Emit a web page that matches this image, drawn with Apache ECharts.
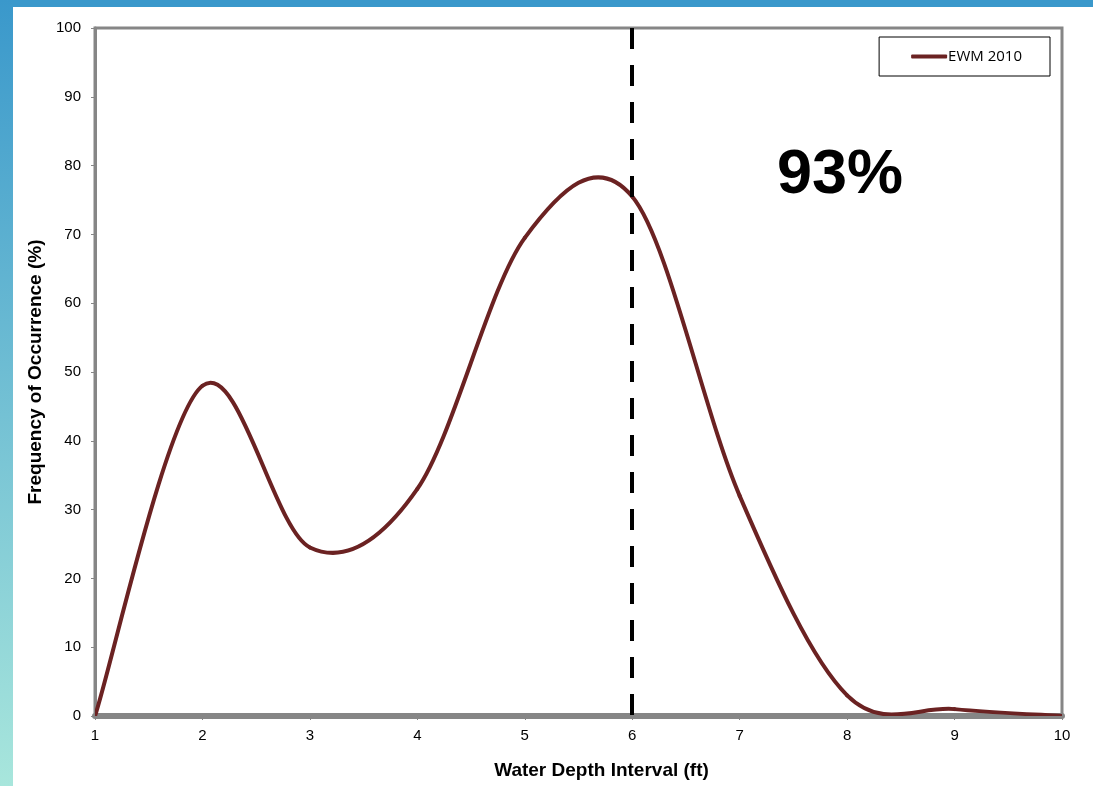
<!DOCTYPE html>
<html><head><meta charset="utf-8">
<script src="https://cdn.jsdelivr.net/npm/echarts@6/dist/echarts.min.js"></script>
<style>html,body{margin:0;padding:0;background:#fff}#c{width:1093px;height:786px}</style>
</head><body><div id="c"></div>
<script>
const xValues = [1, 2, 3, 4, 5, 6, 7, 8, 9, 10];
const ewm2010 = [0, 48, 24.5, 33, 69.5, 75.5, 32, 3, 1, 0];
const thresholdX = 6;
const annotation = '93%';
const seriesName = 'EWM 2010';
const lineColor = '#6b2222';

const pts = xValues.map((x, i) => [x, ewm2010[i]]);

// Excel-style smoothed line: cubic Bezier segments, control points from neighbours / 6
function renderSegment(params, api) {
  const i = params.dataIndex;
  if (i >= pts.length - 1) return null;
  const p0 = api.coord(pts[Math.max(i - 1, 0)]);
  const p1 = api.coord(pts[i]);
  const p2 = api.coord(pts[i + 1]);
  const p3 = api.coord(pts[Math.min(i + 2, pts.length - 1)]);
  const c1 = [p1[0] + (p2[0] - p0[0]) / 6, p1[1] + (p2[1] - p0[1]) / 6];
  const c2 = [p2[0] - (p3[0] - p1[0]) / 6, p2[1] - (p3[1] - p1[1]) / 6];
  return {
    type: 'bezierCurve',
    shape: {x1:p1[0], y1:p1[1], x2:p2[0], y2:p2[1], cpx1:c1[0], cpy1:c1[1], cpx2:c2[0], cpy2:c2[1]},
    style: {stroke: lineColor, lineWidth: 4, fill: null, lineCap: 'round'},
    z2: 1
  };
}

const chart = echarts.init(document.getElementById('c'));
chart.setOption({
  animation: false,
  backgroundColor: '#ffffff',
  graphic: [
    {type:'rect', left:0, top:0, shape:{width:1093, height:7}, style:{fill:'#3a98cb'}, z:-1},
    {type:'rect', left:0, top:0, shape:{width:13, height:786}, style:{fill:{type:'linear',x:0,y:0,x2:0,y2:1,colorStops:[{offset:0,color:'#3a98cb'},{offset:1,color:'#a8e6dc'}]}}, z:-1},
    {type:'text', left:777, top:144, style:{text:annotation, font:'bold 63px "Liberation Sans", Arial, sans-serif', fill:'#000'}}
  ],
  grid: {left:95, top:28, right:31, bottom:70, show:true, borderColor:'#868686', borderWidth:3},
  legend: {
    right:43, top:37, itemGap:0,
    padding:[12,28,12,32], borderColor:'#000', borderWidth:1,
    itemWidth:36, itemHeight:4,
    textStyle:{fontFamily:'"Open Sans", sans-serif', fontSize:15, color:'#000', padding:[0,0,0,-4]},
    data:[{name:seriesName, icon:'roundRect'}]
  },
  xAxis: {
    type:'value', min:1, max:10, interval:1,
    name:'Water Depth Interval (ft)', nameLocation:'middle', nameGap:45,
    nameTextStyle:{fontFamily:'"Liberation Sans", Arial, sans-serif', fontWeight:'bold', fontSize:19, color:'#000', padding:[0,0,0,46]},
    axisLine:{lineStyle:{color:'#868686', width:6}},
    axisTick:{show:true, length:4, lineStyle:{color:'#868686', width:1}},
    axisLabel:{fontFamily:'"Liberation Sans", Arial, sans-serif', fontSize:15, color:'#000', margin:12},
    splitLine:{show:false}
  },
  yAxis: {
    type:'value', min:0, max:100, interval:10,
    name:'Frequency of Occurrence (%)', nameLocation:'middle', nameGap:47,
    nameTextStyle:{fontFamily:'"Liberation Sans", Arial, sans-serif', fontWeight:'bold', fontSize:19, color:'#000'},
    axisLine:{show:true, lineStyle:{color:'#868686', width:3}},
    axisTick:{show:true, length:4, lineStyle:{color:'#868686', width:1}},
    axisLabel:{fontFamily:'"Liberation Sans", Arial, sans-serif', fontSize:15, color:'#000', margin:14},
    splitLine:{show:false}
  },
  series: [{
    name:seriesName, type:'custom', renderItem: renderSegment,
    data: pts, clip:true,
    itemStyle:{color:lineColor},
    encode:{x:0, y:1},
    markLine:{
      silent:true, symbol:['none','none'], label:{show:false},
      lineStyle:{color:'#000', width:4, type:[21,16]},
      data:[[{coord:[thresholdX,100]},{coord:[thresholdX,0]}]]
    }
  }]
});
</script></body></html>
